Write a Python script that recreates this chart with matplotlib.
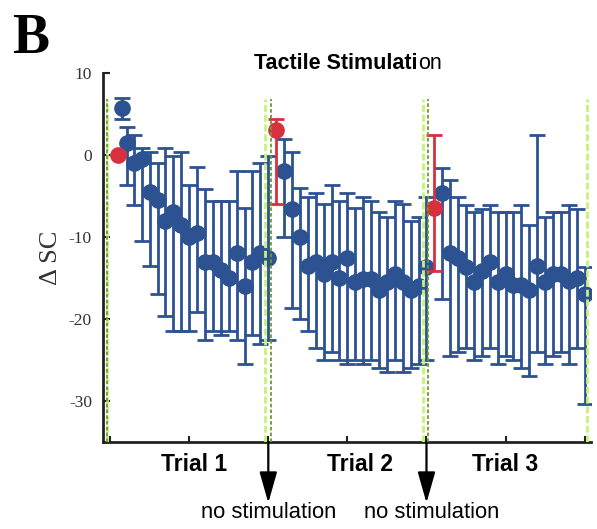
import matplotlib.pyplot as plt
import numpy as np

# blue series: sample position, mean, upper and lower end of the error bar
blue_x = [1.5, 2.1, 3, 4, 5, 6, 7, 8, 9, 10, 11, 12, 13, 14, 15, 16, 17, 18, 19, 20,
          22, 23, 24, 25, 26, 27, 28, 29, 30, 31, 32, 33, 34, 35, 36, 37, 38, 39, 40,
          42, 43, 44, 45, 46, 47, 48, 49, 50, 51, 52, 53, 54, 55, 56, 57, 58, 59, 60]
blue_mean = [5.7, 1.5, -1.0, -0.5, -4.5, -5.5, -8.0, -7.0, -8.5, -10.0, -9.5, -13.0, -13.0, -14.0, -15.0, -12.0, -16.0, -13.0, -12.0, -12.5,
             -2.0, -6.6, -10.0, -13.5, -13.0, -14.5, -13.0, -15.0, -12.6, -15.5, -15.1, -15.1, -16.5, -15.5, -14.5, -15.5, -16.5, -16.0, -13.6,
             -4.6, -12.0, -12.6, -13.6, -15.5, -14.1, -13.1, -15.5, -14.5, -15.9, -15.9, -16.5, -13.5, -15.5, -14.5, -14.5, -15.4, -15.0, -17.0]
blue_hi = [7.0, 3.4, 2.4, 0.8, 0.4, -1.0, 0.8, -0.1, 0.4, -3.6, -1.5, -4.1, -5.6, -5.6, -5.6, -2.0, -6.5, -2.0, -1.0, -0.1,
           1.95, 0.4, -4.05, -5.1, -4.6, -6.0, -3.65, -5.55, -4.6, -6.5, -5.1, -5.55, -7.0, -7.5, -5.55, -6.0, -8.1, -7.5, -5.1,
           -1.6, -3.0, -5.1, -6.1, -7.0, -6.6, -6.1, -7.0, -7.0, -7.0, -6.1, -8.5, 2.4, -7.5, -7.0, -7.0, -6.1, -6.6, -13.6]
blue_lo = [4.4, -3.6, -6.1, -10.5, -13.5, -17.0, -19.6, -21.5, -21.5, -21.5, -19.1, -22.6, -21.5, -22.0, -21.5, -22.6, -25.5, -22.0, -23.1, -22.6,
           -10.05, -18.6, -20.0, -21.5, -23.5, -25.0, -24.0, -25.0, -25.5, -25.0, -25.5, -25.0, -26.0, -26.5, -25.0, -26.5, -26.0, -25.5, -25.0,
           -17.5, -24.5, -24.0, -23.5, -25.0, -24.5, -23.5, -25.5, -24.5, -25.0, -26.0, -27.0, -24.0, -25.5, -24.5, -24.0, -25.5, -23.5, -30.4]

# red series: first sample of each trial
red_x = [1, 21, 41]
red_mean = [0.0, 3.0, -6.5]
red_hi = [0.0, 4.4, 2.45]
red_lo = [0.0, -6.0, -14.1]

# trial boundaries (dashed green markers)
light_lines = [-0.4, 19.6, 39.5, 60.25]
dark_lines = [-0.35, 20.3, 40.2]
nostim_x = [20, 40]

trial_labels = ['Trial 1', 'Trial 2', 'Trial 3']
trial_label_x = [10.6, 31.6, 49.9]
yticks = [10, 0, -10, -20, -30]
ytick_labels = ['10', '0', '-10', '-20', '-30']

blue = '#2d5291'
red = '#d8303f'
serif = 'Liberation Serif'
sans = 'Liberation Sans'

fig = plt.figure(figsize=(5.97, 5.29), dpi=100)
ax = fig.add_axes([103 / 597, 1 - 442 / 529, (591 - 103) / 597, (442 - 73) / 529])

bm = np.array(blue_mean)
ax.errorbar(blue_x, bm, yerr=[bm - np.array(blue_lo), np.array(blue_hi) - bm],
            fmt='o', color=blue, ms=11, elinewidth=2, capsize=5.5, capthick=2, zorder=2)
rm = np.array(red_mean)
ax.errorbar(red_x, rm, yerr=[rm - np.array(red_lo), np.array(red_hi) - rm],
            fmt='o', color=red, ms=11, elinewidth=2, capsize=5.5, capthick=2, zorder=3)

for x in light_lines:
    ax.plot([x, x], [-35, 6.8], color='#c6f27a', lw=2, ls=(0, (2.5, 1)), zorder=4)
for x in dark_lines:
    ax.plot([x, x], [-35, 6.8], color='#6c9b2c', lw=1.3, ls=(0, (2, 1.2)), zorder=5)

ax.set_xlim(-0.9, 60.8)
ax.set_ylim(-35, 10)
ax.set_xticks(np.arange(0, 61, 10))
ax.set_xticklabels([])
ax.set_yticks(yticks)
ax.set_yticklabels(ytick_labels, family=serif, fontsize=12.5, color='#333333')
ax.tick_params(axis='x', direction='in', length=4, width=1.5, color='#222222')
ax.tick_params(axis='y', direction='in', length=5, width=1.5, color='#222222', pad=8)
for s in ['top', 'right']:
    ax.spines[s].set_visible(False)
for s in ['left', 'bottom']:
    ax.spines[s].set_linewidth(2)
    ax.spines[s].set_color('#222222')

ax.set_ylabel('\u0394 SC', family=serif, fontsize=19, color='#333333', labelpad=5)

for lab, x in zip(trial_labels, trial_label_x):
    ax.text(x, -0.062, lab, transform=ax.get_xaxis_transform(), ha='center', va='center',
            family=sans, fontweight='bold', fontsize=16.5)

for x, tx in zip(nostim_x, [20.1, 40.7]):
    ax.annotate('', xy=(x, -0.165), xytext=(x, 0.0), xycoords=ax.get_xaxis_transform(),
                arrowprops=dict(arrowstyle='-|>,head_length=0.95,head_width=0.27', mutation_scale=20,
                                color='black', lw=1.6, shrinkA=0, shrinkB=0))
    ax.text(tx, -0.19, 'no stimulation', transform=ax.get_xaxis_transform(), ha='center', va='center',
            family=sans, fontsize=15.8)

# title with the last two letters in regular weight
t1 = fig.text(0, 1 - 69 / 529, 'Tactile Stimulati', family=sans, fontweight='bold', fontsize=15.5, va='baseline')
t2 = fig.text(0, 1 - 69 / 529, 'on', family=sans, fontsize=15.5, va='baseline')
fig.canvas.draw()
r = fig.canvas.get_renderer()
w1 = t1.get_window_extent(r).width
w2 = t2.get_window_extent(r).width
x0 = 348 - (w1 + w2) / 2
t1.set_x(x0 / 597)
t2.set_x((x0 + w1) / 597)

fig.text(12 / 597, 1 - 53 / 529, 'B', family=serif, fontweight='bold', fontsize=40, va='baseline')

fig.savefig('out.png', dpi=100)
